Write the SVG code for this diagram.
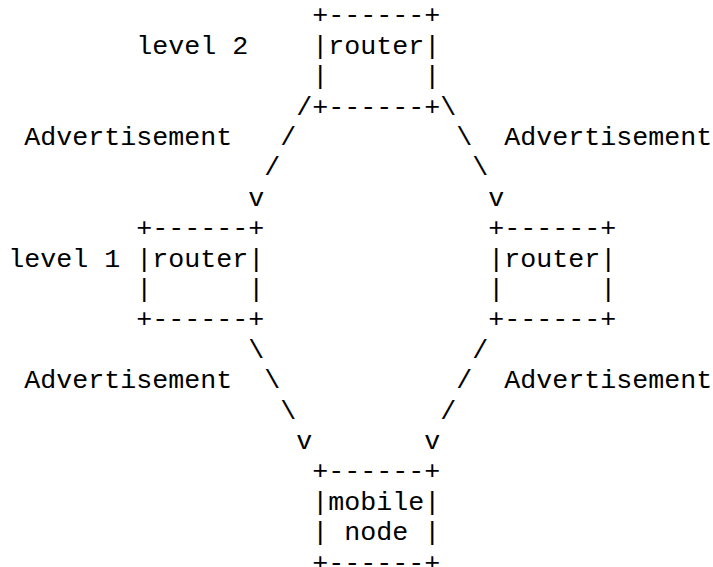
<svg xmlns="http://www.w3.org/2000/svg" width="713" height="567" viewBox="0 0 713 567">
  <style>
    text { font-family: "Liberation Mono", "Courier New", monospace; font-size: 26.67px; fill: #000; white-space: pre; }
  </style>
  <rect width="713" height="567" fill="#fff"/>

  <!-- level 2 router -->
  <g id="router-l2">
    <text xml:space="preserve" x="312.3" y="23.3">+------+</text>
    <text xml:space="preserve" x="312.3" y="53.7">|router|</text>
    <text xml:space="preserve" x="312.3" y="84.1">|      |</text>
    <text xml:space="preserve" x="312.3" y="114.5">+------+</text>
    <text x="136.3" y="53.7">level 2</text>
  </g>

  <!-- level 1 routers -->
  <g id="router-l1-left">
    <text xml:space="preserve" x="136.3" y="236.1">+------+</text>
    <text xml:space="preserve" x="136.3" y="266.5">|router|</text>
    <text xml:space="preserve" x="136.3" y="296.9">|      |</text>
    <text xml:space="preserve" x="136.3" y="327.3">+------+</text>
    <text x="8.3" y="266.5">level 1</text>
  </g>
  <g id="router-l1-right">
    <text xml:space="preserve" x="488.3" y="236.1">+------+</text>
    <text xml:space="preserve" x="488.3" y="266.5">|router|</text>
    <text xml:space="preserve" x="488.3" y="296.9">|      |</text>
    <text xml:space="preserve" x="488.3" y="327.3">+------+</text>
  </g>

  <!-- mobile node -->
  <g id="mobile-node">
    <text xml:space="preserve" x="312.3" y="479.3">+------+</text>
    <text xml:space="preserve" x="312.3" y="509.7">|mobile|</text>
    <text xml:space="preserve" x="312.3" y="540.1">| node |</text>
    <text xml:space="preserve" x="312.3" y="570.5">+------+</text>
  </g>

  <!-- advertisement connectors -->
  <g id="connectors">
    <g id="adv-l2-left">
      <text x="296.3" y="114.5">/</text>
      <text x="280.3" y="144.9">/</text>
      <text x="264.3" y="175.3">/</text>
      <text x="248.3" y="205.7">v</text>
      <text x="24.3" y="144.9">Advertisement</text>
    </g>
    <g id="adv-l2-right">
      <text x="440.3" y="114.5">\</text>
      <text x="456.3" y="144.9">\</text>
      <text x="472.3" y="175.3">\</text>
      <text x="488.3" y="205.7">v</text>
      <text x="504.3" y="144.9">Advertisement</text>
    </g>
    <g id="adv-l1-left">
      <text x="248.3" y="357.7">\</text>
      <text x="264.3" y="388.1">\</text>
      <text x="280.3" y="418.5">\</text>
      <text x="296.3" y="448.9">v</text>
      <text x="24.3" y="388.1">Advertisement</text>
    </g>
    <g id="adv-l1-right">
      <text x="472.3" y="357.7">/</text>
      <text x="456.3" y="388.1">/</text>
      <text x="440.3" y="418.5">/</text>
      <text x="424.3" y="448.9">v</text>
      <text x="504.3" y="388.1">Advertisement</text>
    </g>
  </g>
</svg>
